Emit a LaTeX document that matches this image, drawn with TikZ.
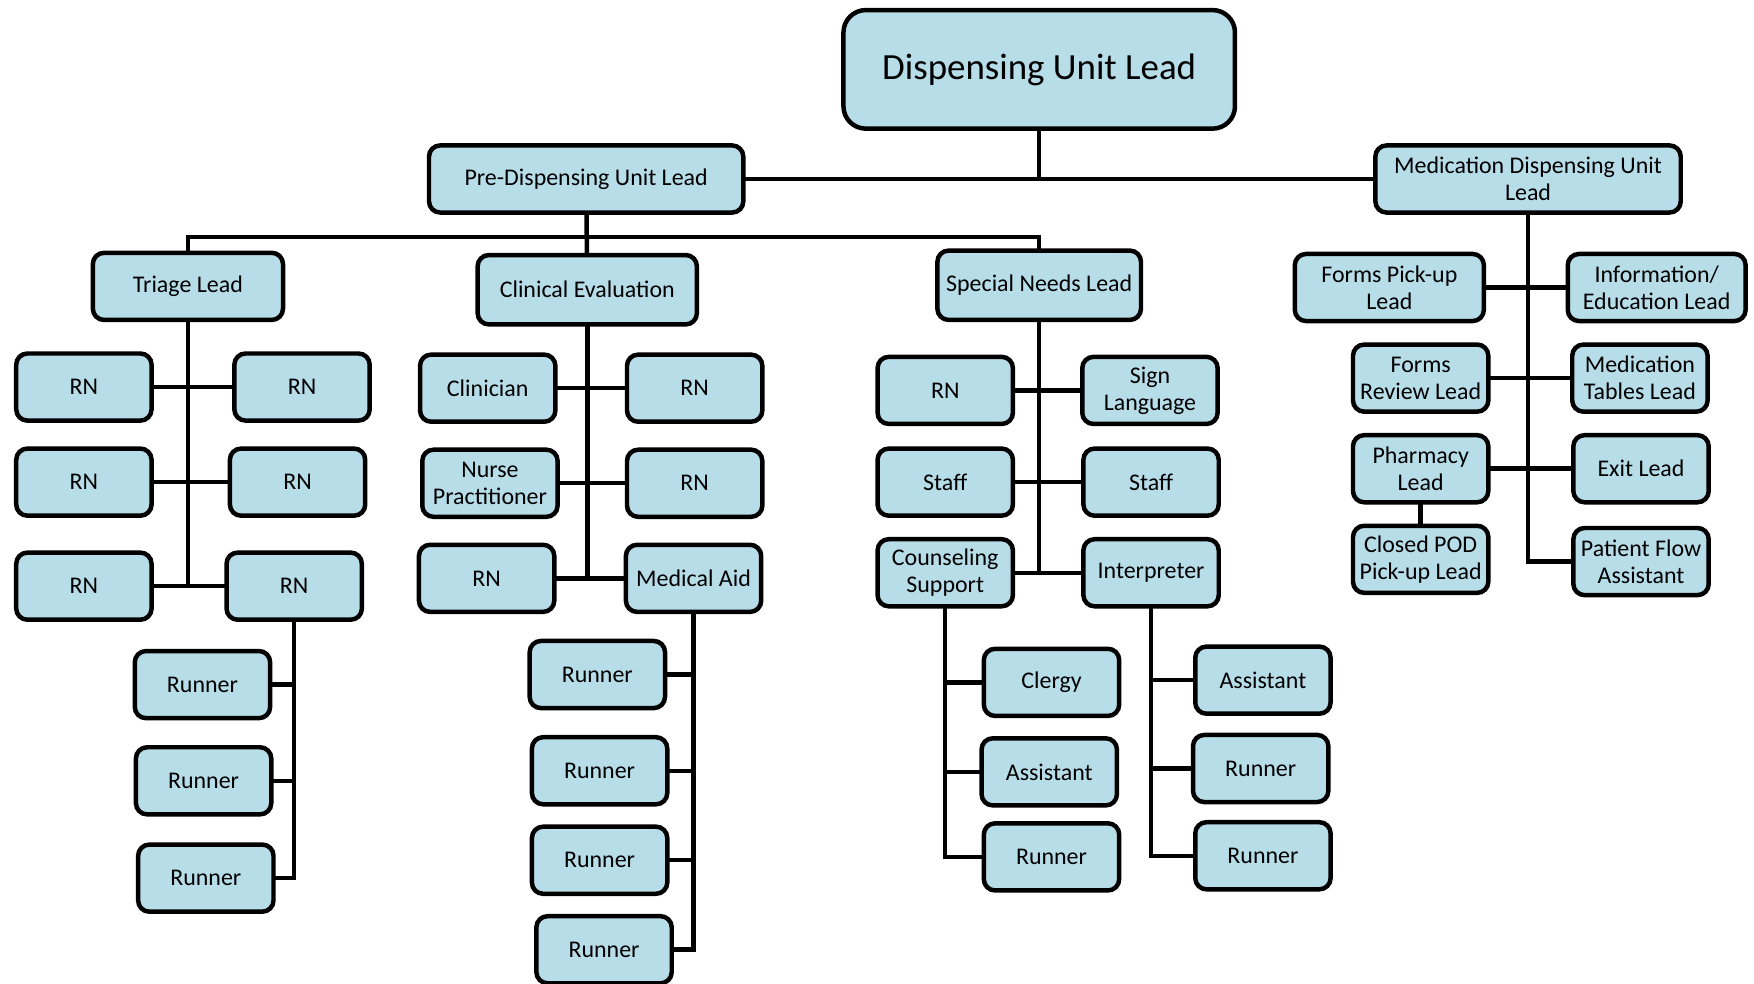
\documentclass[tikz,border=0pt]{standalone}
\usepackage{fontspec}
\setmainfont{Carlito}
\usetikzlibrary{calc}
\definecolor{boxblue}{HTML}{B7DDE8}
\newcommand{\orgfont}{\fontsize{10.7}{12}\selectfont}
\tikzset{
  orgbox/.style = {draw, line width=2pt, rounded corners=5pt, fill=boxblue,
    align=center, inner sep=0pt, minimum width=60.5pt, minimum height=30pt, font=\orgfont},
  headbox/.style = {orgbox, rounded corners=10pt, minimum width=175pt,
    minimum height=53pt, font=\fontsize{16.5}{18}\selectfont},
  link/.style = {line width=2pt, line cap=rect}
}

\begin{document}
\begin{tikzpicture}[x=0.5pt, y=-0.5pt, link]
  \useasboundingbox (0,0) rectangle (1568,879);

  \node[headbox] (dispensing_lead) at (929,62) {Dispensing Unit Lead};
  \node[orgbox, minimum width=140.5pt] (pre_dispensing) at (524,160) {Pre-Dispensing Unit Lead};
  \node[orgbox, minimum width=136.5pt] (med_dispensing) at (1366,160) {Medication Dispensing Unit\\Lead};

  \node[orgbox, minimum width=85pt] (triage) at (168,256) {Triage Lead};
  \node[orgbox, minimum width=98pt, minimum height=31pt] (clinical) at (525,259) {Clinical Evaluation};
  \node[orgbox, minimum width=91pt, minimum height=31pt] (special_needs) at (929,255) {Special Needs Lead};

  % triage
  \node[orgbox] (triage_rn1) at (75,346) {RN};
  \node[orgbox] (triage_rn2) at (270,346) {RN};
  \node[orgbox] (triage_rn3) at (75,431) {RN};
  \node[orgbox] (triage_rn4) at (266,431) {RN};
  \node[orgbox] (triage_rn5) at (75,524) {RN};
  \node[orgbox] (triage_rn6) at (263,524) {RN};
  \node[orgbox] (triage_runner1) at (181,612) {Runner};
  \node[orgbox] (triage_runner2) at (182,698) {Runner};
  \node[orgbox] (triage_runner3) at (184,785) {Runner};

  % clinical evaluation
  \node[orgbox] (clinician) at (436,347) {Clinician};
  \node[orgbox] (clinical_rn1) at (621,347) {RN};
  \node[orgbox] (nurse_practitioner) at (438,432) {Nurse\\Practitioner};
  \node[orgbox] (clinical_rn2) at (621,432) {RN};
  \node[orgbox] (clinical_rn3) at (435,517) {RN};
  \node[orgbox] (medical_aid) at (620,517) {Medical Aid};
  \node[orgbox] (clinical_runner1) at (534,603) {Runner};
  \node[orgbox] (clinical_runner2) at (536,689) {Runner};
  \node[orgbox] (clinical_runner3) at (536,769) {Runner};
  \node[orgbox] (clinical_runner4) at (540,849) {Runner};

  % special needs
  \node[orgbox] (special_rn) at (845,349) {RN};
  \node[orgbox] (sign_language) at (1028,349) {Sign\\Language};
  \node[orgbox] (special_staff1) at (845,431) {Staff};
  \node[orgbox] (special_staff2) at (1029,431) {Staff};
  \node[orgbox] (counseling) at (845,512) {Counseling\\Support};
  \node[orgbox] (interpreter) at (1029,512) {Interpreter};
  \node[orgbox] (clergy) at (940,610) {Clergy};
  \node[orgbox] (counseling_assistant) at (938,690) {Assistant};
  \node[orgbox] (counseling_runner) at (940,766) {Runner};
  \node[orgbox] (interpreter_assistant) at (1129,608) {Assistant};
  \node[orgbox] (interpreter_runner1) at (1127,687) {Runner};
  \node[orgbox] (interpreter_runner2) at (1129,765) {Runner};

  % medication dispensing
  \node[orgbox, minimum width=84.5pt] (forms_pickup) at (1242,257) {Forms Pick-up\\Lead};
  \node[orgbox, minimum width=79.5pt] (information) at (1481,257) {Information/\\Education Lead};
  \node[orgbox] (forms_review) at (1270,338) {Forms\\Review Lead};
  \node[orgbox] (medication_tables) at (1466,338) {Medication\\Tables Lead};
  \node[orgbox] (pharmacy) at (1270,419) {Pharmacy\\Lead};
  \node[orgbox] (exit_lead) at (1467,419) {Exit Lead};
  \node[orgbox] (closed_pod) at (1270,500) {Closed POD\\Pick-up Lead};
  \node[orgbox] (patient_flow) at (1467,502) {Patient Flow\\Assistant};

  \coordinate (level_bar) at (524,212);
  \draw (dispensing_lead) -- (dispensing_lead |- pre_dispensing);
  \draw (pre_dispensing) -- (med_dispensing);
  \draw (triage.north) |- (level_bar) -| (special_needs.north);
  \draw (pre_dispensing) -- (clinical);

  \draw (triage) -- (triage |- triage_rn5);
  \draw (triage_rn1) -- (triage_rn2);
  \draw (triage_rn3) -- (triage_rn4);
  \draw (triage_rn5) -- (triage_rn6);
  \draw (triage_rn6) -- (triage_rn6 |- triage_runner3);
  \draw (triage_runner1) -- (triage_runner1 -| triage_rn6);
  \draw (triage_runner2) -- (triage_runner2 -| triage_rn6);
  \draw (triage_runner3) -- (triage_runner3 -| triage_rn6);

  \draw (clinical) -- (clinical |- clinical_rn3);
  \draw (clinician) -- (clinical_rn1);
  \draw (nurse_practitioner) -- (clinical_rn2);
  \draw (clinical_rn3) -- (medical_aid);
  \draw (medical_aid) -- (medical_aid |- clinical_runner4);
  \draw (clinical_runner1) -- (clinical_runner1 -| medical_aid);
  \draw (clinical_runner2) -- (clinical_runner2 -| medical_aid);
  \draw (clinical_runner3) -- (clinical_runner3 -| medical_aid);
  \draw (clinical_runner4) -- (clinical_runner4 -| medical_aid);

  \draw (special_needs) -- (special_needs |- counseling);
  \draw (special_rn) -- (sign_language);
  \draw (special_staff1) -- (special_staff2);
  \draw (counseling) -- (interpreter);
  \draw (counseling) -- (counseling |- counseling_runner);
  \draw (clergy) -- (clergy -| counseling);
  \draw (counseling_assistant) -- (counseling_assistant -| counseling);
  \draw (counseling_runner) -- (counseling_runner -| counseling);
  \draw (interpreter) -- (interpreter |- interpreter_runner2);
  \draw (interpreter_assistant) -- (interpreter_assistant -| interpreter);
  \draw (interpreter_runner1) -- (interpreter_runner1 -| interpreter);
  \draw (interpreter_runner2) -- (interpreter_runner2 -| interpreter);

  \draw (med_dispensing.south) |- (patient_flow.west);
  \draw (forms_pickup) -- (information);
  \draw (forms_review) -- (medication_tables);
  \draw (pharmacy) -- (exit_lead);
  \draw (pharmacy) -- (closed_pod);
\end{tikzpicture}
\end{document}
